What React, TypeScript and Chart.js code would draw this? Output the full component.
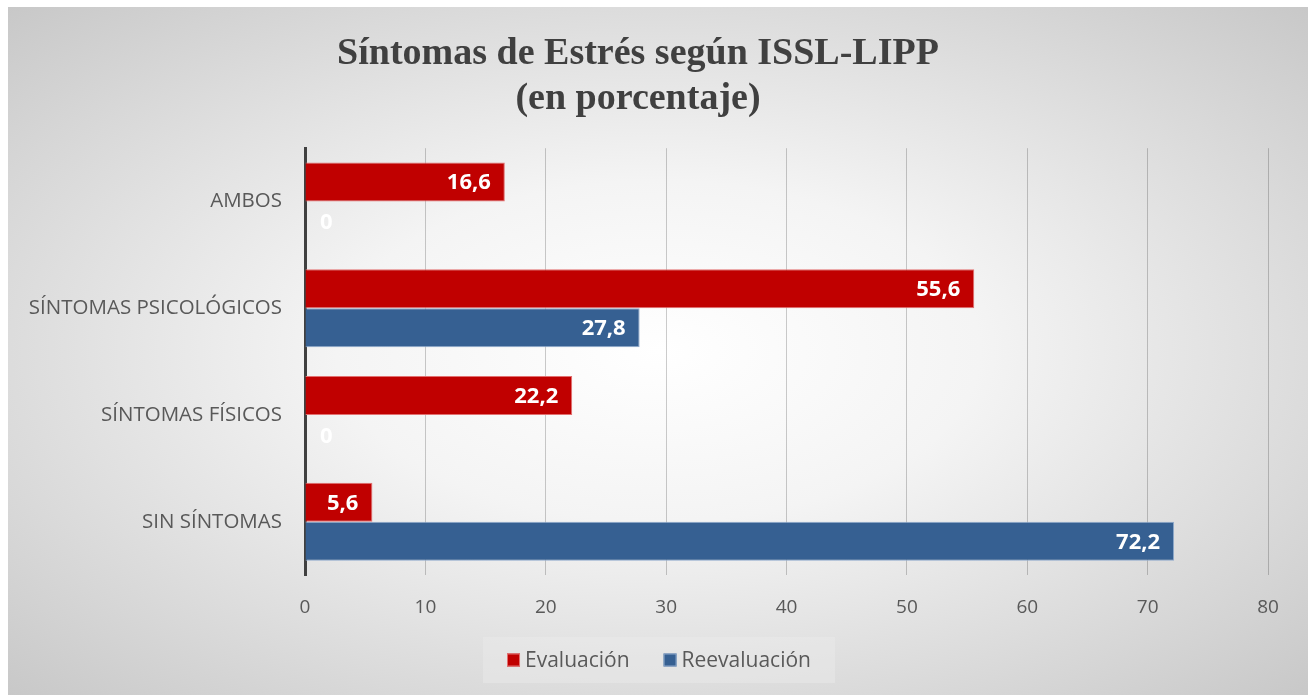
import React, { useEffect, useRef } from "react";
import { Chart, registerables } from "chart.js";

Chart.register(...registerables);

const categories = ["AMBOS", "SÍNTOMAS PSICOLÓGICOS", "SÍNTOMAS FÍSICOS", "SIN SÍNTOMAS"];
const evaluacion = [16.6, 55.6, 22.2, 5.6];
const reevaluacion = [0, 27.8, 0, 72.2];
const titleLines = ["Síntomas de Estrés según ISSL-LIPP", "(en porcentaje)"];
const seriesNames = ["Evaluación", "Reevaluación"];
const seriesColors = ["#C00000", "#366092"];
const seriesBorders = ["#E27070", "#8FA9CC"];

const FONT = "'Open Sans', 'Noto Sans', sans-serif";

const valueLabels = {
  id: "valueLabels",
  afterDatasetsDraw(chart: any) {
    const ctx = chart.ctx;
    ctx.save();
    ctx.font = `bold 22px ${FONT}`;
    ctx.fillStyle = "#ffffff";
    ctx.textBaseline = "middle";
    chart.data.datasets.forEach((ds: any, di: number) => {
      const meta = chart.getDatasetMeta(di);
      meta.data.forEach((el: any, i: number) => {
        const v = ds.data[i];
        const txt = String(v).replace(".", ",");
        if (v === 0) {
          ctx.textAlign = "left";
          ctx.fillText(txt, el.base + 15, el.y + 2);
        } else {
          ctx.textAlign = "right";
          ctx.fillText(txt, el.x - 14, el.y + 1);
        }
      });
    });
    ctx.restore();
  },
};

const customLegend = {
  id: "customLegend",
  afterDraw(chart: any) {
    const ctx = chart.ctx;
    ctx.save();
    const cx = 651;
    const cy = 653;
    ctx.fillStyle = "rgba(236,236,236,0.45)";
    ctx.fillRect(cx - 176, cy - 23, 352, 46);
    ctx.font = `21px ${FONT}`;
    ctx.textBaseline = "middle";
    ctx.textAlign = "left";
    const box = 13;
    const gapBox = 5;
    const gapItem = 34;
    const widths = seriesNames.map((n) => ctx.measureText(n).width);
    const total = widths.reduce((a, w) => a + box + gapBox + w, 0) + gapItem * (seriesNames.length - 1);
    let x = cx - total / 2;
    seriesNames.forEach((n, i) => {
      ctx.fillStyle = seriesColors[i];
      ctx.fillRect(x, cy - box / 2, box, box);
      ctx.strokeStyle = seriesBorders[i];
      ctx.lineWidth = 1;
      ctx.strokeRect(x + 0.5, cy - box / 2 + 0.5, box - 1, box - 1);
      x += box + gapBox;
      ctx.fillStyle = "#595959";
      ctx.fillText(n, x, cy + 1);
      x += widths[i] + gapItem;
    });
    ctx.restore();
  },
};

export default function App() {
  const ref = useRef<HTMLCanvasElement>(null);
  useEffect(() => {
    if (!ref.current) return;
    const chart = new Chart(ref.current, {
      type: "bar",
      data: {
        labels: categories,
        datasets: [
          {
            label: seriesNames[0],
            data: evaluacion,
            backgroundColor: seriesColors[0],
            borderColor: seriesBorders[0],
            borderWidth: 1,
            categoryPercentage: 0.73,
            barPercentage: 1,
          },
          {
            label: seriesNames[1],
            data: reevaluacion,
            backgroundColor: seriesColors[1],
            borderColor: seriesBorders[1],
            borderWidth: 1,
            categoryPercentage: 0.73,
            barPercentage: 1,
          },
        ],
      },
      options: {
        indexAxis: "y",
        animation: false,
        responsive: false,
        layout: { padding: { left: 0, right: 40, top: 0, bottom: 55 } },
        scales: {
          x: {
            min: 0,
            max: 80,
            ticks: { stepSize: 10, color: "#595959", font: { family: FONT, size: 19 }, padding: 21 },
            grid: { color: "rgba(0,0,0,0.2)", lineWidth: 1, drawTicks: false },
            border: { display: false },
          },
          y: {
            ticks: { color: "#595959", font: { family: FONT, size: 20.5 }, padding: 23 },
            grid: { display: false, drawTicks: false },
            border: { color: "#404040", width: 3 },
            afterFit(scale: any) {
              scale.width = 297;
            },
          },
        },
        plugins: {
          title: {
            display: true,
            text: titleLines,
            color: "#404040",
            font: { family: "'Liberation Serif', 'DejaVu Serif', serif", size: 38, weight: "bold", lineHeight: 1.2 },
            padding: { top: 24, bottom: 26 },
          },
          legend: { display: false },
          tooltip: { enabled: false },
        },
      },
      plugins: [valueLabels, customLegend],
    });
    return () => chart.destroy();
  }, []);

  return (
    <div
      style={{
        position: "absolute",
        left: 8,
        top: 7,
        width: 1300,
        height: 688,
        background: "radial-gradient(ellipse at 50% 50%, #ffffff 0%, #f4f4f4 35%, #c8c8c8 100%)",
      }}
    >
      <canvas ref={ref} width={1300} height={688} style={{ display: "block" }} />
    </div>
  );
}
